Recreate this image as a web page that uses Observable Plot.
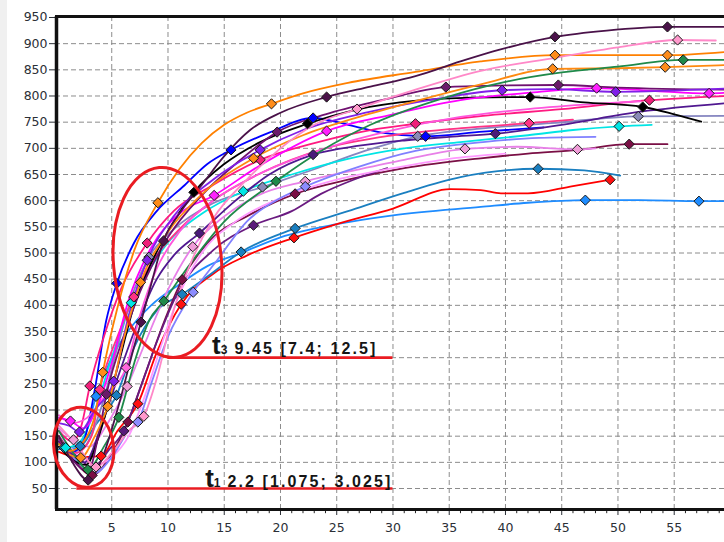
<!DOCTYPE html>
<html><head><meta charset="utf-8">
<script src="https://cdn.jsdelivr.net/npm/d3@7"></script>
<script src="https://cdn.jsdelivr.net/npm/@observablehq/plot@0.6"></script>
<style>
html,body{margin:0;padding:0;background:#fff;}
#wrap{position:relative;width:724px;height:542px;overflow:hidden;background:linear-gradient(to right,#f0f0f0 0,#f0f0f0 7px,#ffffff 7px);}
#wrap svg{display:block;}
</style></head><body><div id="wrap"></div>
<script>
// ---- axis ticks ----
const xTicks = [5,10,15,20,25,30,35,40,45,50,55];
const xMinor = [1,2,3,4,6,7,8,9,11,12,13,14,16,17,18,19,21,22,23,24,26,27,28,29,31,32,33,34,36,37,38,39,41,42,43,44,46,47,48,49,51,52,53,54,56,57,58,59];
const yTicks = [50,100,150,200,250,300,350,400,450,500,550,600,650,700,750,800,850,900,950];

// ---- series (x, value) ----
const sA = [[0.3,150],[1.5,100],[2.9,66],[4,100],[5.5,200],[7,322],[7.6,368],[8.5,440],[9.6,523],[11,575],[13,630],[15,685],[17.3,735],[20,768],[24.1,798],[28,818],[32,838],[36,866],[39.4,888],[44.4,913],[49,925],[54.4,932],[59.5,932]];
const mA = [[2.9,66],[7.6,368],[9.6,523],[24.1,798],[44.4,913],[54.4,932]];
const sB = [[0.3,170],[2,130],[3.6,91],[5,118],[6.5,160],[7.85,188],[9,260],[10.5,390],[12.2,490],[14,565],[17,640],[20,700],[23,745],[26.8,775],[32,812],[37.8,848],[44.4,873],[50,893],[55.3,907],[58.7,906]];
const mB = [[3.6,91],[7.85,188],[26.8,775],[55.3,907]];
const sC = [[0.3,150],[1.3,122],[2.5,140],[3.5,190],[4.2,272],[5.5,395],[7,505],[9.1,596],[11,660],[13,710],[15,745],[17,768],[19.2,785],[22,805],[26,825],[32,846],[37.8,866],[44.4,878],[49,878],[54.4,878],[59.5,884]];
const mC = [[4.2,272],[9.1,596],[19.2,785],[44.4,878],[54.4,878]];
const sD = [[0.3,160],[1.5,120],[2.87,86],[4.3,130],[5.63,186],[7,290],[8.3,370],[9.63,408],[12,480],[15,560],[19.6,637],[23.6,695],[28,745],[34.8,798],[40,827],[45,845],[50,856],[55.8,869],[59.5,869]];
const mD = [[2.87,86],[5.63,186],[9.63,408],[19.6,637],[55.8,869]];
const sE = [[0.3,135],[1.2,115],[2.25,109],[3.5,150],[4.64,207],[6,330],[7.56,444],[10,540],[13,612],[17.6,681],[22,725],[27,760],[32,790],[37.8,822],[44.2,852],[50,853],[54.2,855],[59.5,859]];
const mE = [[2.25,109],[4.64,207],[7.56,444],[17.6,681],[44.2,852],[54.2,855]];
const sF = [[0.3,175],[1.2,170],[2.13,158],[3.5,200],[5.18,255],[6.5,380],[8.15,486],[10.5,570],[14,640],[18.2,697],[22,735],[28,770],[34,795],[39.7,811],[44,813],[49.8,808],[59.5,814]];
const mF = [[2.13,158],[5.18,255],[8.15,486],[18.2,697],[39.7,811],[49.8,808]];
const sG = [[0.3,140],[1.5,105],[2.9,82],[3.8,150],[4.53,230],[6.2,350],[8,450],[10,530],[13,610],[16,670],[19.7,731],[24,765],[29,792],[34.7,817],[39,820],[44.7,821],[50,816],[59.5,812]];
const mG = [[4.53,230],[19.7,731],[34.7,817],[44.7,821]];
const sH = [[0.3,185],[1.33,179],[2.5,165],[3.6,200],[5,290],[6.5,410],[8.5,510],[11,575],[14.1,610],[18,665],[24.1,733],[30,765],[36,792],[42,806],[48.1,815],[53,810],[58.1,805],[59.5,806]];
const mH = [[1.33,179],[14.1,610],[24.1,733],[48.1,815],[58.1,805]];
const sI = [[0.3,130],[1.5,105],[2.7,95],[4,160],[5.5,280],[7,400],[8.5,480],[10.5,560],[12.3,616],[15,670],[18,710],[22.4,747],[27,775],[32.1,791],[37,797],[42.2,798],[47,788],[52.2,779],[55,765],[57.4,751]];
const mI = [[12.3,616],[22.4,747],[42.2,798],[52.2,779]];
const sJ = [[0.3,160],[1.5,140],[2.3,170],[3.05,246],[4.3,340],[5.8,430],[8.15,519],[10.5,580],[14,630],[18.2,678],[23,710],[28,735],[32,747],[38,762],[45,775],[52.8,792],[59.5,800]];
const mJ = [[3.05,246],[8.15,519],[18.2,678],[32,747],[52.8,792]];
const sK = [[0.3,150],[1.5,115],[2.6,100],[4,165],[5.5,260],[7,350],[9,450],[10.5,495],[12.8,538],[16,600],[19,650],[22.9,688],[27,705],[31,715],[35,722],[39.1,728],[45,745],[52,770],[59.5,786]];
const mK = [[12.8,538],[22.9,688],[39.1,728]];
const sL = [[0.3,150],[2,100],[3.5,80],[5,110],[6.5,160],[7.32,177],[8.5,250],[10,340],[12.24,425],[14.5,490],[17,560],[20,605],[22.2,627],[27,665],[32,695],[38,712],[43,720],[48,722]];
const mL = [[7.32,177],[12.24,425],[22.2,627]];
const sM = [[0.3,135],[0.9,128],[2.2,140],[3.5,200],[5,300],[6.73,405],[8,455],[10,520],[13,575],[16.7,618],[21,650],[26,680],[31,700],[36,712],[42,725],[46,735],[50.1,742],[53,745]];
const mM = [[0.9,128],[6.73,405],[16.7,618],[50.1,742]];
const sN = [[0.3,140],[1.5,120],[2.5,140],[3.5,240],[4.5,370],[5.45,442],[7,520],[9,580],[11.5,630],[13.5,670],[15.6,697],[19,730],[22.9,758],[26,745],[29,730],[32.9,723],[38,732],[43.4,740]];
const mN = [[5.45,442],[15.6,697],[22.9,758],[32.9,723]];
const sO = [[0.3,150],[1.8,100],[3.26,75],[4.8,110],[6.43,177],[8,270],[9.5,360],[11.26,449],[14,530],[17,570],[21.3,613],[26,640],[31,662],[37.8,681],[42,690],[46.4,697],[51,708],[54.4,708]];
const mO = [[3.26,75],[6.43,177],[11.26,449],[21.3,613],[51,708]];
const sP = [[0.3,125],[0.74,128],[2.2,131],[3.5,170],[5.42,228],[7,320],[9,390],[11.26,421],[13.5,455],[16.5,502],[21.3,547],[26,580],[31,615],[36,645],[42.9,661],[47,658],[50.2,648]];
const mP = [[0.74,128],[2.2,131],[5.42,228],[11.26,421],[16.5,502],[21.3,547],[42.9,661]];
const sQ = [[0.3,120],[2,110],[4.06,112],[5.5,160],[7.32,212],[9,310],[11.17,402],[14,460],[17,495],[21.2,529],[25,555],[30,585],[35.1,622],[37.8,620],[39.6,614],[42,614],[46,628],[49.3,640]];
const mQ = [[4.06,112],[7.32,212],[11.17,402],[21.2,529],[49.3,640]];
const sR = [[0.3,140],[1.5,125],[2.6,150],[3.6,226],[5,300],[6.4,349],[8.5,400],[11,440],[13.5,475],[16.5,500],[20,530],[25,555],[30,572],[37.8,588],[42,596],[47.1,601],[52,601],[57.2,599],[59.5,599]];
const mR = [[3.6,226],[47.1,601],[57.2,599]];
const sS = [[0.3,165],[1.6,143],[3,130],[4.5,170],[6.37,245],[8,330],[10,430],[12.2,512],[15,570],[18,610],[22.2,637],[27,660],[31,678],[36.4,699],[41,703],[46.4,698],[48,700]];
const mS = [[1.6,143],[6.37,245],[12.2,512],[22.2,637],[36.4,699],[46.4,698]];
const sT = [[0.3,145],[2,110],[3.3,90],[4.8,125],[6.07,160],[7.5,240],[9,330],[11,430],[14,505],[17.6,553],[21,580],[23.6,613],[26.5,640],[29.5,662]];
const mT = [[6.07,160],[17.6,553]];
const sU = [[0.3,140],[1.8,118],[3.2,150],[3.94,239],[5.5,340],[6.96,416],[8.5,480],[11,545],[14,600],[18,650],[24,700],[30,725],[37,740],[42.1,748],[46,755]];
const mU = [[3.94,239],[6.96,416],[42.1,748]];
const sV = [[0.3,190],[1.5,175],[2.8,185],[4.5,230],[6.28,281],[7.5,380],[9,470],[11,540],[14,600],[18,650],[24,700],[30,735],[36,760],[42,775],[48,785],[52,790]];
const mV = [[6.28,281]];
const sW = [[0.3,150],[2,115],[3.6,95],[5,110],[6.5,150],[8,230],[9.5,330],[11,420],[13,500],[16,560],[20,605],[25,640],[30,662],[35,680],[40,690]];
const mW = [];
const sY = [[0.3,135],[1.5,120],[2.6,130],[4,200],[5.5,320],[7,430],[8.3,492],[10.5,545],[14,595],[18.4,626],[23,660],[27.5,695],[32.2,723],[38,738],[44,748],[51.8,761],[59.5,762]];
const mY = [[8.3,492],[18.4,626],[32.2,723],[51.8,761]];

// ---- colours ----
const lineColors = {A:"#4a1249",B:"#ff88c8",C:"#ff8000",D:"#1f8a4a",E:"#ff8a10",F:"#8020e8",G:"#701070",H:"#ff00ff",I:"#000000",J:"#ff1a80",K:"#501890",L:"#8080ff",M:"#00e5e5",N:"#0000ff",O:"#7a0f45",P:"#1a7fc0",Q:"#ff0000",R:"#1e8cff",S:"#e880e8",T:"#6a1a80",U:"#ff3385",V:"#ff55dd",W:"#ff99ff",Y:"#8585c0"};
const markColors = {A:"#4a1249",B:"#ff99cc",C:"#ff8c1a",D:"#1f8a4a",E:"#ff8c1a",F:"#8020e8",G:"#6a1a6a",H:"#ff20ff",I:"#000000",J:"#f0207a",K:"#4a1a7a",L:"#8c8cff",M:"#00e5e5",N:"#0000ff",O:"#7a0f45",P:"#1a7fc0",Q:"#ff1010",R:"#1e8cff",S:"#f09cd8",T:"#5a1a7a",U:"#ff3385",V:"#ff66dd",W:"#ff99ff",Y:"#8a8ab8"};

// ---- annotations ----
const t3Note = {sub:"3", median:9.45, lo:7.4, hi:12.5, level:300, from:10, to:30, textAt:13.96};
const t1Note = {sub:"1", median:2.2, lo:1.075, hi:3.025, level:50, from:1.9, to:30, textAt:13.35};
const bigEllipse = {x:10.0, y:481, rx:4.8, ry:182, angle:-5};
const smallEllipse = {x:2.55, y:128, rx:2.65, ry:77, angle:-10};

const order = ["R","Q","P","O","T","W","S","L","Y","M","N","K","U","J","V","I","H","G","F","E","D","C","B","A"];
const pts = {A:sA,B:sB,C:sC,D:sD,E:sE,F:sF,G:sG,H:sH,I:sI,J:sJ,K:sK,L:sL,M:sM,N:sN,O:sO,P:sP,Q:sQ,R:sR,S:sS,T:sT,U:sU,V:sV,W:sW,Y:sY};
const mks = {A:mA,B:mB,C:mC,D:mD,E:mE,F:mF,G:mG,H:mH,I:mI,J:mJ,K:mK,L:mL,M:mM,N:mN,O:mO,P:mP,Q:mQ,R:mR,S:mS,T:mT,U:mU,V:mV,W:mW,Y:mY};

const lineRows = order.flatMap(k => pts[k].map(([x,y]) => ({k, x, y, c: lineColors[k]})));
const markRows = order.flatMap(k => mks[k].map(([x,y]) => ({k, x, y, c: markColors[k]})));

const diamond = {draw(ctx, size){ const h = Math.sqrt(size)*0.72; ctx.moveTo(0,-h); ctx.lineTo(h,0); ctx.lineTo(0,h); ctx.lineTo(-h,0); ctx.closePath(); }};
const RED = "#ea1c22";
const Y0 = 9.9, Y1 = 951.9;

const chart = Plot.plot({
  width: 724, height: 542,
  marginLeft: 55, marginRight: 0, marginTop: 16, marginBottom: 33,
  style: {background: "transparent", fontFamily: "'DejaVu Sans', sans-serif", fontSize: "12.5px", color: "#2b2f36"},
  x: {domain: [0, 59.47], ticks: xTicks, tickSize: 6, tickPadding: 8, tickFormat: d => String(d), label: null},
  y: {domain: [Y0, Y1], ticks: yTicks, tickSize: 6, tickPadding: 2, tickFormat: d => String(d), label: null},
  color: {type: "identity"},
  marks: [
    Plot.ruleX(xTicks, {stroke: "#8c8c8c", strokeDasharray: "5,3", strokeWidth: 1}),
    Plot.ruleY(yTicks, {stroke: "#8c8c8c", strokeDasharray: "5,3", strokeWidth: 1}),
    Plot.ruleX(xMinor, {y1: Y0, y2: Y0 - 8, stroke: "#222", strokeWidth: 1}),
    Plot.line(lineRows, {x: "x", y: "y", z: "k", stroke: "c", strokeWidth: 1.8, curve: "monotone-x"}),
    Plot.ruleY([t3Note.level], {x1: t3Note.from, x2: t3Note.to, stroke: RED, strokeWidth: 2.6}),
    Plot.ruleY([t1Note.level], {x1: t1Note.from, x2: t1Note.to, stroke: RED, strokeWidth: 2.6}),
    Plot.dot(markRows, {x: "x", y: "y", fill: "c", stroke: "#1a1a1a", strokeWidth: 1, r: 4, symbol: diamond}),
    Plot.ruleX([0], {stroke: "#111", strokeWidth: 3.5, dx: 1}),
    Plot.ruleY([Y0], {stroke: "#111", strokeWidth: 3}),
    Plot.ruleY([Y1], {stroke: "#111", strokeWidth: 3})
  ]
});

document.getElementById("wrap").appendChild(chart);
const svgEl = chart.tagName.toLowerCase() === "svg" ? chart : chart.querySelector("svg");
const sx = chart.scale("x"), sy = chart.scale("y");
const pxPerY = Math.abs(sy.apply(0) - sy.apply(100)) / 100;
const pxPerX = Math.abs(sx.apply(10) - sx.apply(0)) / 10;
const g = d3.select(svgEl).append("g");
for (const e of [bigEllipse, smallEllipse]) {
  const cx = sx.apply(e.x), cy = sy.apply(e.y);
  g.append("ellipse").attr("cx", cx).attr("cy", cy)
    .attr("rx", e.rx * pxPerX).attr("ry", e.ry * pxPerY)
    .attr("transform", `rotate(${e.angle} ${cx} ${cy})`)
    .attr("fill", "none").attr("stroke", RED).attr("stroke-width", 3);
}
for (const [n, off] of [[t3Note, 3.5], [t1Note, 1.5]]) {
  const t = g.append("text").attr("x", sx.apply(n.textAt)).attr("y", sy.apply(n.level) - off)
    .attr("text-anchor", "start")
    .attr("font-family", "'Liberation Sans', Arial, sans-serif").attr("font-weight", "bold").attr("fill", "#151515");
  t.append("tspan").attr("font-size", 26).text("t");
  t.append("tspan").attr("font-size", 12).text(n.sub);
  t.append("tspan").attr("font-size", 16).attr("dx", 7).attr("letter-spacing", 2.1)
    .text(`${n.median} [${n.lo}; ${n.hi}]`);
}
</script></body></html>
